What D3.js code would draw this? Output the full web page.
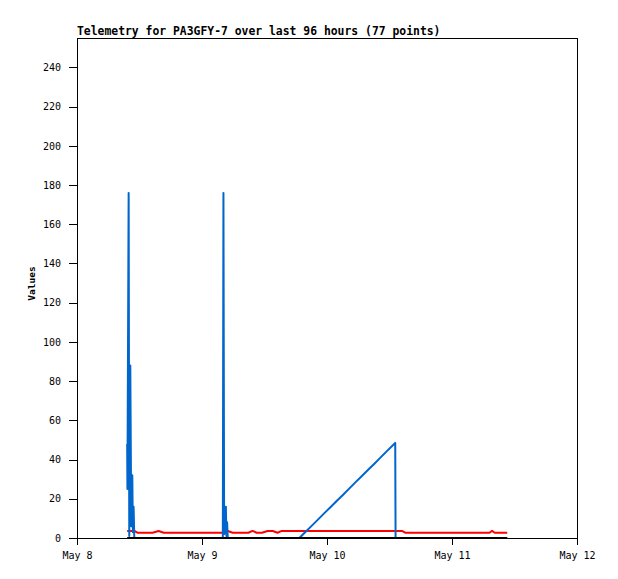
<!doctype html>
<html>
<head>
<meta charset="utf-8">
<title>Telemetry</title>
<script src="https://d3js.org/d3.v7.min.js"></script>
<style>
  body { margin: 0; background: #fff; }
  .axis text { font-family: "DejaVu Sans Mono", monospace; font-size: 10px; fill: #000; }
  .axis path, .axis line { stroke: #000; shape-rendering: crispEdges; }
  .title { font-family: "DejaVu Sans Mono", monospace; font-size: 11.4px; font-weight: bold; }
  .ylabel { font-family: "DejaVu Sans Mono", monospace; font-size: 9.5px; font-weight: bold; }
  .series { fill: none; stroke-width: 2px; stroke-linejoin: round; }
</style>
</head>
<body>
<script>
// sample times (2015, local clock)
var times = [
  "05-08 09:38","05-08 09:41","05-08 09:55","05-08 10:02","05-08 10:14",
  "05-08 10:25","05-08 10:37","05-08 10:44","05-08 10:52","05-08 11:00",
  "05-08 11:35","05-08 12:30","05-08 13:30","05-08 14:30","05-08 15:40",
  "05-08 16:40","05-08 17:40","05-08 18:40","05-08 19:40","05-08 20:40",
  "05-08 21:40","05-08 22:40","05-08 23:40","05-09 00:40","05-09 01:40",
  "05-09 02:40","05-09 04:00",
  "05-09 04:07","05-09 04:15","05-09 04:35","05-09 04:41","05-09 04:49","05-09 04:57",
  "05-09 05:54","05-09 06:54","05-09 07:54","05-09 08:54","05-09 09:42",
  "05-09 10:30","05-09 11:30","05-09 12:36","05-09 13:36","05-09 14:30","05-09 15:18",
  "05-09 16:18","05-09 17:30","05-09 18:42","05-09 19:54","05-09 21:06",
  "05-09 22:18","05-09 23:30","05-10 00:42","05-10 01:54","05-10 03:06",
  "05-10 04:18","05-10 05:30","05-10 06:42","05-10 07:54","05-10 09:06",
  "05-10 10:18","05-10 11:30","05-10 12:42","05-10 13:06","05-10 13:10",
  "05-10 14:24","05-10 15:00","05-10 17:00","05-10 19:00","05-10 23:00",
  "05-11 01:00","05-11 03:00","05-11 05:00","05-11 07:12","05-11 07:42",
  "05-11 08:12","05-11 09:30","05-11 10:36"
];

// blue channel
var blueVals = [
  48, 25, 176, 1, 88, 6, 32, 3, 16, 0,
  0, 0, 0, 0, 0, 0, 0, 0, 0, 0,
  0, 0, 0, 0, 0, 0, 0,
  176, 2, 16, 1, 8, 0,
  0, 0, 0, 0, 0, 0, 0, 0, 0, 0, 0,
  0, 0, 0, 3.2, 6.3, 9.5, 12.7, 15.8, 19.0, 22.1,
  25.3, 28.5, 31.6, 34.8, 37.9, 41.1, 44.3, 47.4, 48.5, 0,
  0, 0, 0, 0, 0, 0, 0, 0, 0, 0,
  0, 0, 0
];

// red channel
var redVals = [
  3.6, 3.6, 3.6, 3.6, 3.6, 3.6, 3.6, 3.6, 3.6, 3.6,
  2.7, 2.7, 2.7, 2.7, 3.6, 2.7, 2.7, 2.7, 2.7, 2.7,
  2.7, 2.7, 2.7, 2.7, 2.7, 2.7, 2.7,
  2.7, 2.7, 2.7, 2.7, 3.2, 3.6,
  2.7, 2.7, 2.7, 2.7, 3.6, 2.7, 2.7, 3.6, 3.6, 2.7, 3.6,
  3.6, 3.6, 3.6, 3.6, 3.6, 3.6, 3.6, 3.6, 3.6, 3.6,
  3.6, 3.6, 3.6, 3.6, 3.6, 3.6, 3.6, 3.6, 3.6, 3.6,
  3.6, 2.7, 2.7, 2.7, 2.7, 2.7, 2.7, 2.7, 2.7, 3.6,
  2.7, 2.7, 2.7
];

// black channel
var blackVals = [
  0, 0, 0, 0, 0, 0, 0, 0, 0, 0,
  0, 0, 0, 0, 0, 0, 0, 0, 0, 0,
  0, 0, 0, 0, 0, 0, 0,
  0, 0, 0, 0, 0, 0,
  0, 0, 0, 0, 0, 0, 0, 0, 0, 0, 0,
  0, 0, 0, 0, 0, 0, 0, 0, 0, 0,
  0, 0, 0, 0, 0, 0, 0, 0, 0, 0,
  0, 0, 0, 0, 0, 0, 0, 0, 0, 0,
  0, 0, 0
];

var yTicks = [0, 20, 40, 60, 80, 100, 120, 140, 160, 180, 200, 220, 240];
var xStart = "05-08 00:00", xEnd = "05-12 00:00";

var w = 618, h = 579;
var plotLeft = 77, plotTop = 38, pw = 500, ph = 500;

var parse = d3.timeParse("%Y-%m-%d %H:%M");
function toDate(s) { return parse("2015-" + s); }

var svg = d3.select("body").append("svg")
    .attr("width", w)
    .attr("height", h);

var x = d3.scaleTime()
    .domain([toDate(xStart), toDate(xEnd)])
    .range([plotLeft, plotLeft + pw]);

var y = d3.scaleLinear()
    .domain([0, 255])
    .range([plotTop + ph, plotTop]);

// title
svg.append("text")
    .attr("class", "title")
    .attr("x", plotLeft)
    .attr("y", 35)
    .text("Telemetry for PA3GFY-7 over last 96 hours (77 points)");

// y label
svg.append("text")
    .attr("class", "ylabel")
    .attr("transform", "translate(35,283.5) rotate(-90)")
    .attr("text-anchor", "middle")
    .text("Values");

// frame
svg.append("rect")
    .attr("x", plotLeft + 0.5)
    .attr("y", plotTop + 0.5)
    .attr("width", pw)
    .attr("height", ph)
    .attr("fill", "none")
    .attr("stroke", "#000")
    .style("shape-rendering", "crispEdges");

svg.append("g")
    .attr("class", "axis")
    .attr("transform", "translate(" + plotLeft + ",0)")
    .call(d3.axisLeft(y)
        .tickValues(yTicks)
        .tickSize(8)
        .tickSizeOuter(0)
        .tickPadding(8));

svg.append("g")
    .attr("class", "axis")
    .attr("transform", "translate(0," + (plotTop + ph) + ")")
    .call(d3.axisBottom(x)
        .ticks(d3.timeDay.every(1))
        .tickFormat(d3.timeFormat("%b %-d"))
        .tickSize(7)
        .tickSizeOuter(0)
        .tickPadding(7));

function series(vals) {
    return vals.map(function(v, i) { return { t: toDate(times[i]), v: v }; });
}

var line = d3.line()
    .x(function(d) { return x(d.t); })
    .y(function(d) { return y(d.v); });

// draw order: red, blue, black on top
[["#ff0000", redVals], ["#0066cc", blueVals], ["#000000", blackVals]].forEach(function(s) {
    svg.append("path")
        .datum(series(s[1]))
        .attr("class", "series")
        .attr("stroke", s[0])
        .attr("d", line);
});
</script>
</body>
</html>
